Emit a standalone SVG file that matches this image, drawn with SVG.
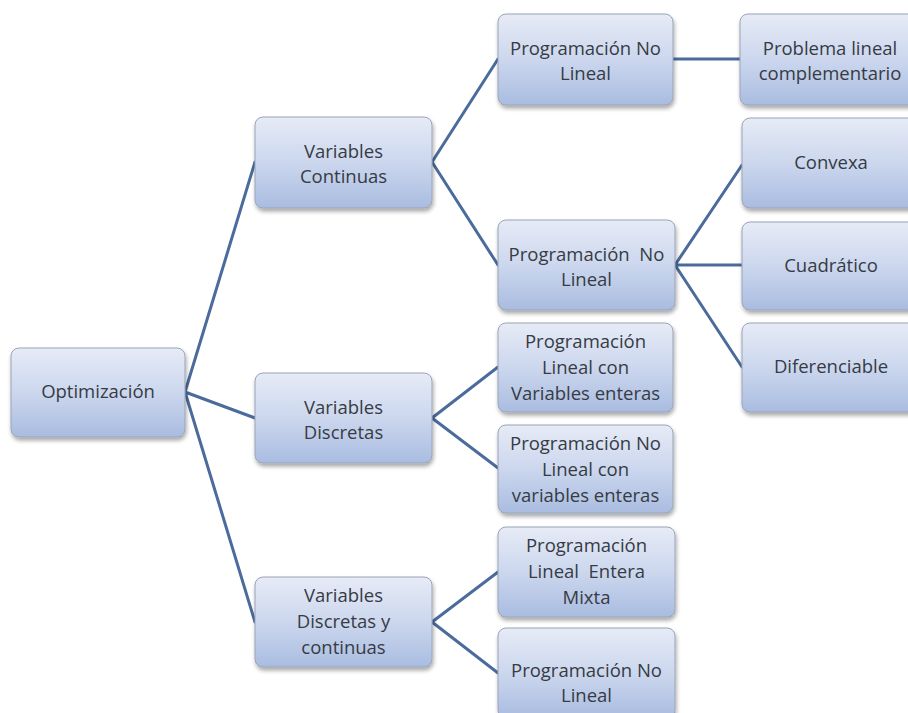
<svg xmlns="http://www.w3.org/2000/svg" width="908" height="713" viewBox="0 0 908 713">
<defs>
<linearGradient id="g" x1="0" y1="0" x2="0" y2="1">
<stop offset="0" stop-color="#e6ebf6"/>
<stop offset="0.5" stop-color="#ccd7ee"/>
<stop offset="1" stop-color="#a9bce0"/>
</linearGradient>
<filter id="sh" x="-10%" y="-10%" width="125%" height="130%">
<feGaussianBlur in="SourceAlpha" stdDeviation="2"/>
<feOffset dx="1" dy="3" result="b"/>
<feComponentTransfer><feFuncA type="linear" slope="0.35"/></feComponentTransfer>
<feMerge><feMergeNode/><feMergeNode in="SourceGraphic"/></feMerge>
</filter>
</defs>
<style>
.box{fill:url(#g);stroke:#9aa4b6;stroke-width:1;filter:url(#sh)}
.t{font-family:"Open Sans","Liberation Sans",sans-serif;font-size:18.5px;fill:#363b44;text-anchor:middle}
.c{stroke:#4a6b9b;stroke-width:3;fill:none;stroke-linecap:round}
</style>
<rect width="908" height="713" fill="#ffffff"/>
<g id="connectors">
<path class="c" d="M185 392 L255 162 M185 392 L255 418 M185 392 L255 622"/>
<path class="c" d="M432 162 L498 59 M432 162 L498 265"/>
<path class="c" d="M673 59 L740 59"/>
<path class="c" d="M675 265 L742 165 M675 265 L742 265 M675 265 L742 367"/>
<path class="c" d="M432 418 L498 367 M432 418 L498 468"/>
<path class="c" d="M432 622 L498 572 M432 622 L498 673"/>
</g>
<g id="n-optimizacion">
<rect class="box" x="11" y="348" width="174" height="89" rx="8"/>
<text class="t" x="98" y="398">Optimización</text>
</g>
<g id="n-vc">
<rect class="box" x="255" y="117" width="177" height="91" rx="8"/>
<text class="t" x="343.5" y="158">Variables</text>
<text class="t" x="343.5" y="183">Continuas</text>
</g>
<g id="n-vd">
<rect class="box" x="255" y="373" width="177" height="90" rx="8"/>
<text class="t" x="343.5" y="414">Variables</text>
<text class="t" x="343.5" y="439">Discretas</text>
</g>
<g id="n-vdc">
<rect class="box" x="255" y="577" width="177" height="90" rx="8"/>
<text class="t" x="343.5" y="602">Variables</text>
<text class="t" x="343.5" y="628">Discretas y</text>
<text class="t" x="343.5" y="654">continuas</text>
</g>
<g id="n-pnl1">
<rect class="box" x="498" y="14" width="175" height="91" rx="8"/>
<text class="t" x="585.5" y="55">Programación No</text>
<text class="t" x="585.5" y="80">Lineal</text>
</g>
<g id="n-plc">
<rect class="box" x="740" y="14" width="176" height="91" rx="8"/>
<text class="t" x="830" y="55">Problema lineal</text>
<text class="t" x="830" y="80">complementario</text>
</g>
<g id="n-pnl2">
<rect class="box" x="498" y="220" width="177" height="90" rx="8"/>
<text class="t" x="586.5" y="261" xml:space="preserve">Programación  No</text>
<text class="t" x="586.5" y="286">Lineal</text>
</g>
<g id="n-convexa">
<rect class="box" x="742" y="118" width="176" height="90" rx="8"/>
<text class="t" x="831" y="169">Convexa</text>
</g>
<g id="n-cuadratico">
<rect class="box" x="742" y="222" width="176" height="88" rx="8"/>
<text class="t" x="831" y="272">Cuadrático</text>
</g>
<g id="n-diferenciable">
<rect class="box" x="742" y="323" width="176" height="89" rx="8"/>
<text class="t" x="831" y="373">Diferenciable</text>
</g>
<g id="n-plve">
<rect class="box" x="498" y="323" width="175" height="89" rx="8"/>
<text class="t" x="585.5" y="348">Programación</text>
<text class="t" x="585.5" y="374">Lineal con</text>
<text class="t" x="585.5" y="400">Variables enteras</text>
</g>
<g id="n-pnlve">
<rect class="box" x="498" y="425" width="175" height="88" rx="8"/>
<text class="t" x="585.5" y="450">Programación No</text>
<text class="t" x="585.5" y="476">Lineal con</text>
<text class="t" x="585.5" y="502">variables enteras</text>
</g>
<g id="n-plem">
<rect class="box" x="498" y="527" width="177" height="90" rx="8"/>
<text class="t" x="586.5" y="552">Programación</text>
<text class="t" x="586.5" y="578" xml:space="preserve">Lineal  Entera</text>
<text class="t" x="586.5" y="604">Mixta</text>
</g>
<g id="n-pnl3">
<rect class="box" x="498" y="628" width="177" height="90" rx="8"/>
<text class="t" x="586.5" y="677">Programación No</text>
<text class="t" x="586.5" y="702">Lineal</text>
</g>
</svg>
